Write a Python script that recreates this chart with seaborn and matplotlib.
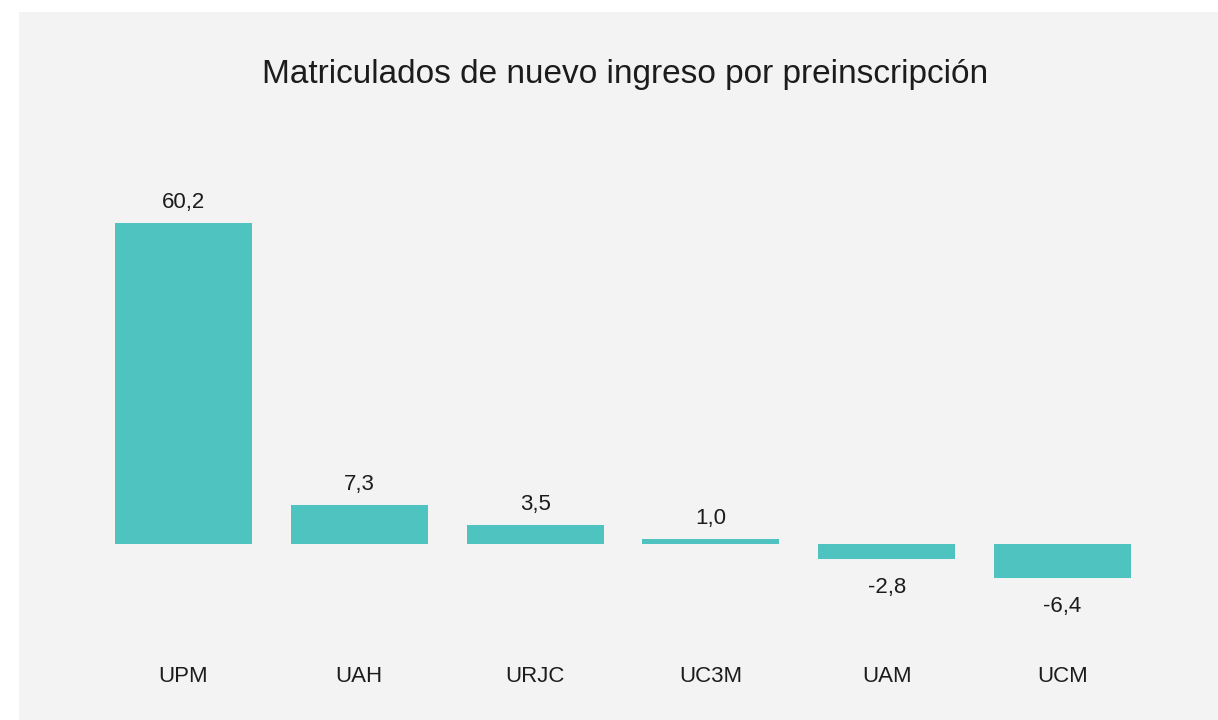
import matplotlib
matplotlib.use("Agg")
import matplotlib.pyplot as plt
from matplotlib.patches import Rectangle
import seaborn as sns
import pandas as pd

categories = ["UPM", "UAH", "URJC", "UC3M", "UAM", "UCM"]
values = [60.2, 7.3, 3.5, 1.0, -2.8, -6.4]
title = "Matriculados de nuevo ingreso por preinscripción"

sns.set_theme(style="white")
plt.rcParams["font.family"] = ["Liberation Sans", "DejaVu Sans"]

BG = "#F3F3F3"
BAR = "#4EC3BF"
TXT = "#1C1C1C"

W, H = 1218, 720
fig = plt.figure(figsize=(W / 100, H / 100), dpi=100)
fig.patch.set_facecolor("white")
fig.patches.append(Rectangle((19 / W, 0), 1 - 19 / W, 1 - 12 / H, transform=fig.transFigure,
                             facecolor=BG, edgecolor="none", zorder=-10))

# axes: x from 95.5 to 1150.5 px ; y zero at 544, 5.33 px per unit
left, right = 95.5, 1150.5
ax = fig.add_axes([left / W, 0, (right - left) / W, 1])
ax.set_facecolor("none")
ppu = 5.333
ymin = -(H - 544) / ppu
ymax = 544 / ppu
ax.set_ylim(ymin, ymax)

df = pd.DataFrame({"cat": categories, "val": values})
sns.barplot(data=df, x="cat", y="val", color=BAR, saturation=1, width=0.78, ax=ax)
for p in ax.patches:
    p.set_edgecolor("none")
ax.set_xlim(-0.5, 5.5)

for i, v in enumerate(values):
    lab = f"{v:.1f}".replace(".", ",")
    if v >= 0:
        ax.annotate(lab, (i, v), xytext=(0, 10), textcoords="offset pixels",
                    ha="center", va="bottom", fontsize=16, color=TXT)
    else:
        ax.annotate(lab, (i, v), xytext=(0, -18), textcoords="offset pixels",
                    ha="center", va="top", fontsize=16, color=TXT)

ax.set_xticks(range(len(categories)))
ax.set_xticklabels([])
for i, c in enumerate(categories):
    ax.text(i, -(676 - 544) / ppu, c, ha="center", va="center", fontsize=16, color=TXT)

ax.set_yticks([])
ax.set_xlabel("")
ax.set_ylabel("")
ax.tick_params(length=0)
for s in ax.spines.values():
    s.set_visible(False)

fig.text(625 / W, 1 - 74 / H, title, ha="center", va="center", fontsize=24, color=TXT)

fig.savefig("out.png", dpi=100, facecolor=fig.get_facecolor())
